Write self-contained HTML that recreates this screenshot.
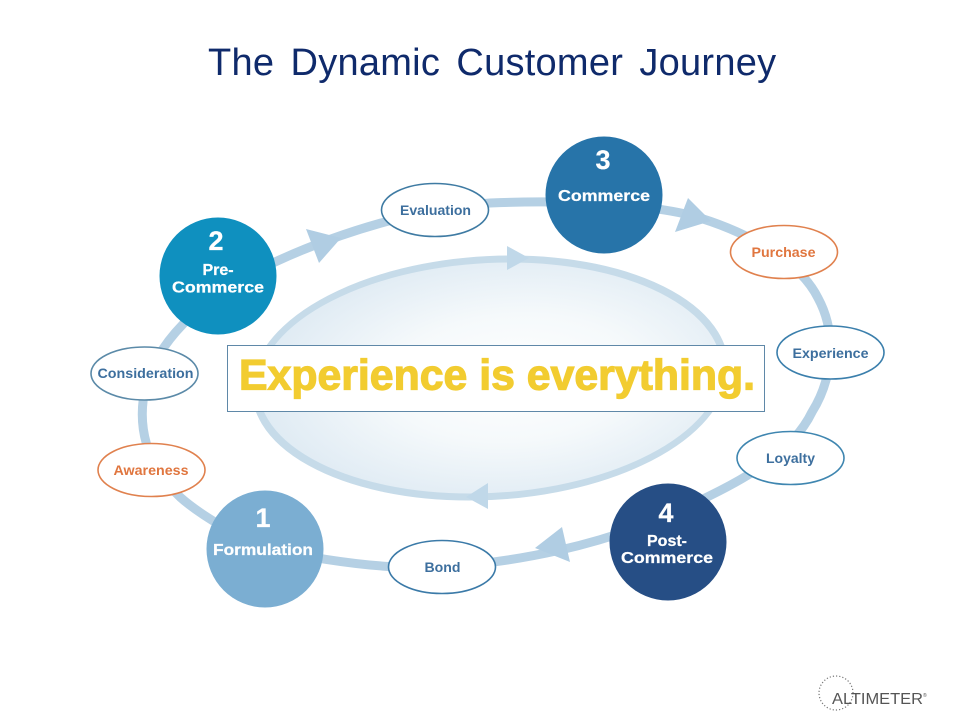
<!DOCTYPE html>
<html><head><meta charset="utf-8"><style>
html,body{margin:0;padding:0;background:#fff;width:960px;height:720px;overflow:hidden}
svg{display:block}
text{font-family:"Liberation Sans",sans-serif}
.b{font-weight:bold;text-anchor:middle}
.w{fill:#fff;stroke:#fff;stroke-width:0.25}
.l{font-size:14px;fill:#3d6f9e}
.o{font-size:14px;fill:#e0763f}
</style></head><body>
<svg width="960" height="720" viewBox="0 0 960 720" xmlns="http://www.w3.org/2000/svg">
<defs>
<radialGradient id="g" cx="0.55" cy="0.5" r="0.6">
<stop offset="0" stop-color="#ffffff"/><stop offset="0.45" stop-color="#f5f9fb"/><stop offset="1" stop-color="#dbe8f2"/>
</radialGradient>
</defs>
<rect width="960" height="720" fill="#fff"/>
<text x="208" y="75" font-size="38" fill="#0f2a6b" word-spacing="5.5" letter-spacing="0.25">The Dynamic Customer Journey</text>

<!-- inner ellipse -->
<g transform="matrix(1 0 -0.17 1 490 378)">
<ellipse cx="0" cy="0" rx="234" ry="119" fill="url(#g)" stroke="#c6dbe9" stroke-width="7"/>
</g>
<polygon points="507,246 529,258 507,270" fill="#c0d8e9"/>
<polygon points="488,483 466,497 488,509" fill="#c0d8e9"/>

<!-- outer ring -->
<path d="M265,548 C330,562 390,570 442,567 C520,562 600,545 668,515 C730,488 790,458 812,412 C832,380 838,335 818,298 C800,262 750,232 690,215 C640,203 560,200 490,203 C420,208 340,232 275,262 C210,292 160,335 146,385 C136,425 146,465 180,497 C200,515 240,538 265,548 Z" fill="none" stroke="#b5d0e4" stroke-width="9"/>
<polygon points="306,229 341,238 319,263" fill="#b0cde3"/>
<polygon points="688,198 711,221 675,232" fill="#b0cde3"/>
<polygon points="562,527 535,548 570,562" fill="#b0cde3"/>

<!-- big circles -->
<circle cx="265" cy="549" r="58.5" fill="#7baed2"/>
<circle cx="218" cy="276" r="58.5" fill="#0f90bf"/>
<circle cx="604" cy="195" r="58.5" fill="#2774a9"/>
<circle cx="668" cy="542" r="58.5" fill="#264e85"/>

<text class="b w" x="263" y="527" font-size="27">1</text>
<text class="b w" x="263" y="555" font-size="16" textLength="100" lengthAdjust="spacingAndGlyphs">Formulation</text>
<text class="b w" x="216" y="250" font-size="27">2</text>
<text class="b w" x="218" y="275" font-size="16">Pre-</text>
<text class="b w" x="218" y="292.5" font-size="16" textLength="92" lengthAdjust="spacingAndGlyphs">Commerce</text>
<text class="b w" x="603" y="169" font-size="27">3</text>
<text class="b w" x="604" y="201" font-size="16" textLength="92" lengthAdjust="spacingAndGlyphs">Commerce</text>
<text class="b w" x="666" y="522" font-size="27">4</text>
<text class="b w" x="667" y="546" font-size="16">Post-</text>
<text class="b w" x="667" y="563" font-size="16" textLength="92" lengthAdjust="spacingAndGlyphs">Commerce</text>

<!-- small ellipses -->
<g fill="#fff" stroke-width="1.6">
<ellipse cx="435" cy="210" rx="53.5" ry="26.5" stroke="#3f7ba3"/>
<ellipse cx="784" cy="252" rx="53.5" ry="26.5" stroke="#e0814e"/>
<ellipse cx="830.5" cy="352.5" rx="53.5" ry="26.5" stroke="#3b7fac"/>
<ellipse cx="790.5" cy="458" rx="53.5" ry="26.5" stroke="#3f86b0"/>
<ellipse cx="442" cy="567" rx="53.5" ry="26.5" stroke="#3b7aa8"/>
<ellipse cx="151.5" cy="470" rx="53.5" ry="26.5" stroke="#e0814e"/>
<ellipse cx="144.5" cy="373.5" rx="53.5" ry="26.5" stroke="#5b8aa8"/>
</g>
<text class="b l" x="435.5" y="215" textLength="71" lengthAdjust="spacingAndGlyphs">Evaluation</text>
<text class="b o" x="783.5" y="257" textLength="64" lengthAdjust="spacingAndGlyphs">Purchase</text>
<text class="b l" x="830.5" y="358" textLength="76" lengthAdjust="spacingAndGlyphs">Experience</text>
<text class="b l" x="790.5" y="463" textLength="49" lengthAdjust="spacingAndGlyphs">Loyalty</text>
<text class="b l" x="442.5" y="572" textLength="36" lengthAdjust="spacingAndGlyphs">Bond</text>
<text class="b o" x="151" y="475" textLength="75" lengthAdjust="spacingAndGlyphs">Awareness</text>
<text class="b l" x="145.5" y="378" textLength="96" lengthAdjust="spacingAndGlyphs">Consideration</text>

<!-- banner -->
<rect x="227.5" y="345.5" width="537" height="66" fill="#fff" stroke="#5f88a8" stroke-width="1"/>
<text x="239" y="389.5" font-size="43" font-weight="bold" fill="#f2cc30" stroke="#f2cc30" stroke-width="1.2" textLength="516" lengthAdjust="spacingAndGlyphs">Experience is everything.</text>

<!-- logo -->
<circle cx="836" cy="693" r="17" fill="none" stroke="#777" stroke-width="1.2" stroke-dasharray="1.2 2"/>
<text x="832" y="704" font-size="16" fill="#555" textLength="91" lengthAdjust="spacingAndGlyphs">ALTIMETER</text>
<text x="923" y="697" font-size="5" fill="#555">®</text>
</svg>
</body></html>
